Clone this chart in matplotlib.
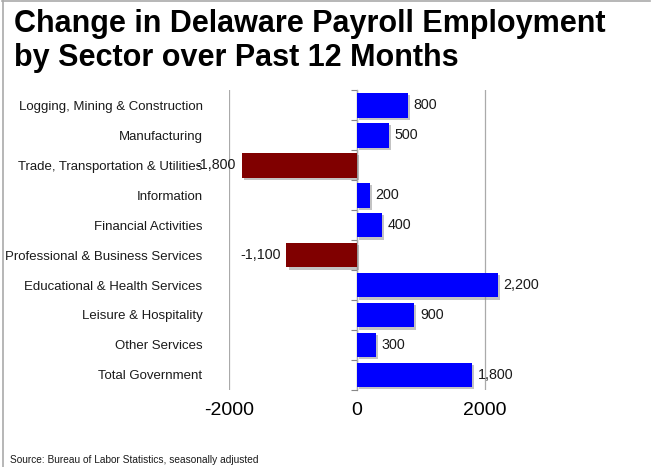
import matplotlib.pyplot as plt
import matplotlib.patheffects as pe
from matplotlib.lines import Line2D

plt.rcParams['font.family'] = ['Liberation Sans', 'DejaVu Sans']

sectors = ["Logging, Mining & Construction", "Manufacturing",
           "Trade, Transportation & Utilities", "Information",
           "Financial Activities", "Professional & Business Services",
           "Educational & Health Services", "Leisure & Hospitality",
           "Other Services", "Total Government"]
change = [800, 500, -1800, 200, 400, -1100, 2200, 900, 300, 1800]
xticks = [-2000, 0, 2000]

fig = plt.figure(figsize=(6.54, 4.67), dpi=100)
ax = fig.add_axes([0.350, 0.165, 0.489, 0.642])

pos = list(range(len(sectors)))
colors = ['#0000FF' if v >= 0 else '#800000' for v in change]
shadow = [pe.SimplePatchShadow(offset=(1.5, -1.5), shadow_rgbFace='#888888', alpha=0.5), pe.Normal()]
bars = ax.barh(pos, change, height=0.83, color=colors, zorder=3)
for b in bars:
    b.set_path_effects(shadow)

# value labels
for p, v in zip(pos, change):
    ax.annotate(f"{v:,}", xy=(v, p), xytext=(4 if v >= 0 else -4, 0),
                textcoords='offset points', ha='left' if v >= 0 else 'right',
                va='center', fontsize=10.3, color='#1a1a1a', zorder=4)

ax.set_xlim(-2000, 3000)
ax.set_ylim(len(sectors) - 0.5, -0.5)
ax.set_xticks(xticks)
ax.set_xticklabels([str(t) for t in xticks], fontsize=14)
ax.tick_params(axis='x', length=0, pad=9)
ax.grid(axis='x', color='#aaaaaa', linewidth=0.9, zorder=0)

ax.set_yticks(pos)
ax.set_yticklabels(sectors, fontsize=9.5, color='#1a1a1a')
ax.tick_params(axis='y', length=0, pad=19)
for s in ax.spines.values():
    s.set_visible(False)

# category axis sitting at zero
sec = ax.secondary_yaxis(0, transform=ax.transData)
sec.set_yticks([p + 0.5 for p in [-1] + pos])
sec.set_yticklabels([])
sec.tick_params(axis='y', length=4, color='#888888', width=0.8)
sec.spines['left'].set_color('#888888')
sec.spines['left'].set_linewidth(0.9)

fig.text(0.021, 0.981, "Change in Delaware Payroll Employment\nby Sector over Past 12 Months",
         ha='left', va='top', fontsize=22, fontweight='bold', linespacing=1.16)
fig.text(0.015, 0.004, "Source: Bureau of Labor Statistics, seasonally adjusted",
         ha='left', va='bottom', fontsize=7.3, color='#1a1a1a')

# frame lines at top and left
fig.add_artist(Line2D([0.003, 0.994], [0.997, 0.997], color='#aaaaaa', linewidth=1.2))
fig.add_artist(Line2D([0.004, 0.004], [0.0, 0.997], color='#aaaaaa', linewidth=1.2))

fig.savefig('out.png', dpi=100)
